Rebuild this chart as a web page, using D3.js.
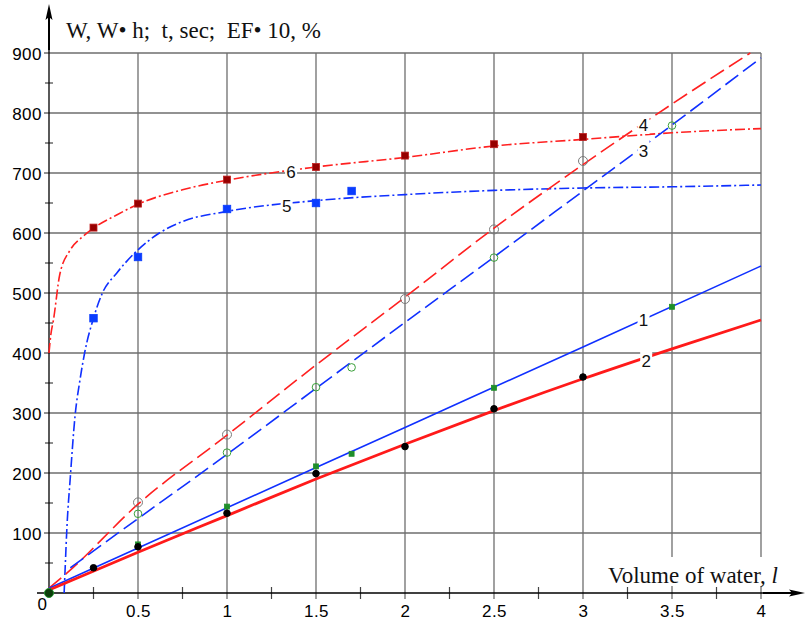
<!DOCTYPE html>
<html>
<head>
<meta charset="utf-8">
<script src="https://cdn.jsdelivr.net/npm/d3@7"></script>
<style>
  html, body { margin: 0; padding: 0; background: #fff; }
  svg { display: block; }
</style>
</head>
<body>
<div class="chart"></div>
<script>
    "use strict";

    // axis ticks
    var xTicks = [0.5, 1, 1.5, 2, 2.5, 3, 3.5, 4];
    var xMinor = [0.25, 0.75, 1.25, 1.75, 2.25, 2.75, 3.25, 3.75];
    var yTicks = [100, 200, 300, 400, 500, 600, 700, 800, 900];
    var yMinor = [50, 150, 250, 350, 450, 550, 650, 750, 850];

    // fitted curves [volume, value]
    var curve1 = [[0, 8], [1, 142], [2, 276], [3, 410], [4, 545]];
    var curve2 = [[0, 5], [0.5, 68], [1, 129], [1.5, 190], [2, 248], [2.5, 304], [3, 357], [3.5, 407], [4, 455]];
    var curve3 = [[0.12, 42], [0.5, 124], [1, 231], [1.5, 341], [2, 451], [2.5, 560], [3, 670], [3.5, 780], [4, 892]];
    var curve4 = [[0, 8], [0.1, 33], [0.5, 148], [1, 263], [1.5, 380], [2, 493], [2.5, 608], [3, 714], [3.5, 815], [3.94, 900]];
    var curve5 = [[0.085, 0], [0.092, 50], [0.1, 105], [0.12, 194], [0.146, 294], [0.174, 355], [0.2, 400], [0.25, 458],
        [0.3, 500], [0.38, 533], [0.5, 572], [0.62, 600], [0.75, 619], [1, 636], [1.5, 654], [2, 664], [2.5, 671],
        [3, 675], [3.5, 677], [4, 680]];
    var curve6 = [[0, 400], [0.01, 430], [0.025, 455], [0.06, 530], [0.12, 572], [0.19, 594], [0.25, 608], [0.38, 630],
        [0.5, 648], [0.75, 672], [1, 688], [1.5, 710], [2, 726], [2.5, 745], [3, 756], [3.5, 767], [4, 774]];

    // measured points
    var points1 = [[0, 0], [0.5, 81], [1, 144], [1.5, 211], [1.7, 232], [2.5, 342], [3.5, 477]];
    var points2 = [[0, 0], [0.25, 42], [0.5, 77], [1, 133], [1.5, 199], [2, 244], [2.5, 307], [3, 360]];
    var points3 = [[0.5, 132], [1, 234], [1.5, 343], [1.7, 376], [2.5, 559], [3.5, 779]];
    var points4 = [[0.5, 151], [1, 264], [2, 490], [2.5, 606], [3, 720]];
    var points5 = [[0.25, 458], [0.5, 560], [1, 640], [1.5, 650], [1.7, 670]];
    var points6 = [[0.25, 609], [0.5, 649], [1, 689], [1.5, 710], [2, 729], [2.5, 748], [3, 760]];

    // curve number labels [label, volume, value]
    var curveLabels = [["6", 1.36, 702], ["5", 1.335, 645], ["4", 3.34, 780], ["3", 3.34, 737], ["1", 3.34, 455], ["2", 3.355, 387]];

    var width = 810, height = 621;
    var x = d3.scaleLinear().domain([0, 4]).range([49, 761]);
    var y = d3.scaleLinear().domain([0, 900]).range([593, 53]);

    var svg = d3.select('.chart').append('svg')
        .attr('width', width)
        .attr('height', height);

    // grid
    var grid = svg.append('g').attr('stroke', '#6e6e6e').attr('stroke-width', 1.3);
    grid.selectAll('line.h').data(yTicks).enter().append('line')
        .attr('x1', x(0) - 5).attr('x2', x(4))
        .attr('y1', function (d) { return y(d); }).attr('y2', function (d) { return y(d); });
    grid.selectAll('line.v').data(xTicks).enter().append('line')
        .attr('x1', function (d) { return x(d); }).attr('x2', function (d) { return x(d); })
        .attr('y1', y(900)).attr('y2', y(0) + 6);

    // minor ticks
    var minor = svg.append('g').attr('stroke', '#444').attr('stroke-width', 1.2);
    minor.selectAll('line.ym').data(yMinor).enter().append('line')
        .attr('x1', x(0) - 4).attr('x2', x(0) + 4)
        .attr('y1', function (d) { return y(d); }).attr('y2', function (d) { return y(d); });
    minor.selectAll('line.xm').data(xMinor).enter().append('line')
        .attr('x1', function (d) { return x(d); }).attr('x2', function (d) { return x(d); })
        .attr('y1', y(0) - 6).attr('y2', y(0) + 6);

    // tick labels
    var yAxis = svg.append('g')
        .attr('transform', 'translate(' + x(0) + ',0)')
        .call(d3.axisLeft(y).tickValues(yTicks).tickSize(0).tickPadding(7));
    var xAxis = svg.append('g')
        .attr('transform', 'translate(0,' + y(0) + ')')
        .call(d3.axisBottom(x).tickValues(xTicks).tickSize(0).tickFormat(d3.format('')).tickPadding(12));
    [yAxis, xAxis].forEach(function (g) {
        g.select('.domain').remove();
        g.selectAll('text')
            .attr('fill', '#000')
            .style('font-family', '"Liberation Sans", Arial, sans-serif')
            .style('font-size', '17px')
            .style('letter-spacing', '0.5px');
    });
    yAxis.selectAll('text').attr('dy', '0.36em');

    svg.append('text')
        .attr('x', x(0) - 2).attr('y', y(0) + 17)
        .attr('text-anchor', 'end')
        .style('font-family', '"Liberation Sans", Arial, sans-serif')
        .style('font-size', '17px')
        .attr('fill', '#000')
        .text('0');

    // x axis label with white box
    svg.append('rect').attr('x', 604).attr('y', 557).attr('width', 188).attr('height', 29).attr('fill', '#fff');
    var xl = svg.append('text')
        .attr('x', 608).attr('y', 583)
        .style('font-family', '"Liberation Serif", "Times New Roman", serif')
        .style('font-size', '23px')
        .attr('fill', '#111');
    xl.append('tspan').text('Volume of water, ');
    xl.append('tspan').style('font-style', 'italic').text('l');

    // axes with arrows
    var axes = svg.append('g').attr('stroke', '#000').attr('fill', '#000');
    axes.append('line').attr('x1', 37).attr('x2', 792).attr('y1', y(0)).attr('y2', y(0)).attr('stroke-width', 1.3);
    axes.append('line').attr('x1', 763).attr('x2', 795).attr('y1', y(0)).attr('y2', y(0)).attr('stroke-width', 2);
    axes.append('path').attr('stroke', 'none')
        .attr('d', 'M805,' + y(0) + 'L789,' + (y(0) - 3.5) + 'L792,' + y(0) + 'L789,' + (y(0) + 3.5) + 'Z');
    axes.append('line').attr('x1', x(0)).attr('x2', x(0)).attr('y1', y(0) + 2).attr('y2', 14).attr('stroke-width', 1.3);
    axes.append('line').attr('x1', x(0)).attr('x2', x(0)).attr('y1', 50).attr('y2', 14).attr('stroke-width', 2);
    axes.append('path').attr('stroke', 'none')
        .attr('d', 'M' + x(0) + ',4L' + (x(0) - 3.5) + ',20L' + x(0) + ',17L' + (x(0) + 3.5) + ',20Z');

    // title
    svg.append('text')
        .attr('x', 66).attr('y', 38)
        .attr('xml:space', 'preserve')
        .style('white-space', 'pre')
        .style('font-family', '"Liberation Serif", "Times New Roman", serif')
        .style('font-size', '23px')
        .attr('fill', '#111')
        .text('W, W\u2022 h;  t, sec;  EF\u2022 10, %');

    // curves
    var line = d3.line()
        .x(function (d) { return x(d[0]); })
        .y(function (d) { return y(d[1]); })
        .curve(d3.curveMonotoneX);

    var curves = [
        { data: curve6, color: '#ff2020', width: 1.6, dash: '10,3,2,3' },
        { data: curve5, color: '#1030ff', width: 1.6, dash: '10,3,2,3' },
        { data: curve4, color: '#ff2020', width: 1.6, dash: '16,6' },
        { data: curve3, color: '#1030ff', width: 1.6, dash: '16,6' },
        { data: curve1, color: '#1030ff', width: 1.6, dash: null },
        { data: curve2, color: '#ff1a1a', width: 2.8, dash: null }
    ];
    svg.append('g').selectAll('path').data(curves).enter().append('path')
        .attr('d', function (d) { return line(d.data); })
        .attr('fill', 'none')
        .attr('stroke', function (d) { return d.color; })
        .attr('stroke-width', function (d) { return d.width; })
        .attr('stroke-dasharray', function (d) { return d.dash; });

    // markers
    function squares(data, size, fill, stroke) {
        svg.append('g').selectAll('rect').data(data).enter().append('rect')
            .attr('x', function (d) { return x(d[0]) - size / 2; })
            .attr('y', function (d) { return y(d[1]) - size / 2; })
            .attr('width', size).attr('height', size)
            .attr('fill', fill).attr('stroke', stroke).attr('stroke-width', 0.8);
    }
    function circles(data, r, fill, stroke) {
        svg.append('g').selectAll('circle').data(data).enter().append('circle')
            .attr('cx', function (d) { return x(d[0]); })
            .attr('cy', function (d) { return y(d[1]); })
            .attr('r', r)
            .attr('fill', fill).attr('stroke', stroke).attr('stroke-width', 1);
    }
    squares(points6, 7, '#960000', '#c02020');
    squares(points5, 7.5, '#0a3cff', '#0a3cff');
    circles(points4, 4.5, 'none', '#7a7a7a');
    circles(points3, 3.8, 'none', '#3aa03a');
    squares(points1, 5, '#1f8f2a', '#1f8f2a');
    circles(points2, 3.3, '#000', '#000');
    circles([[0, 0]], 4.5, '#0b3d0b', '#1f8f2a');

    // curve numbers
    var lab = svg.append('g').selectAll('g').data(curveLabels).enter().append('g')
        .attr('transform', function (d) { return 'translate(' + x(d[1]) + ',' + y(d[2]) + ')'; });
    lab.append('rect').attr('x', -6).attr('y', -10).attr('width', 12).attr('height', 19).attr('fill', '#fff');
    lab.append('text')
        .attr('text-anchor', 'middle').attr('dy', '0.36em')
        .style('font-family', '"Liberation Sans", Arial, sans-serif')
        .style('font-size', '17px')
        .attr('fill', '#111')
        .text(function (d) { return d[0]; });
</script>
</body>
</html>
